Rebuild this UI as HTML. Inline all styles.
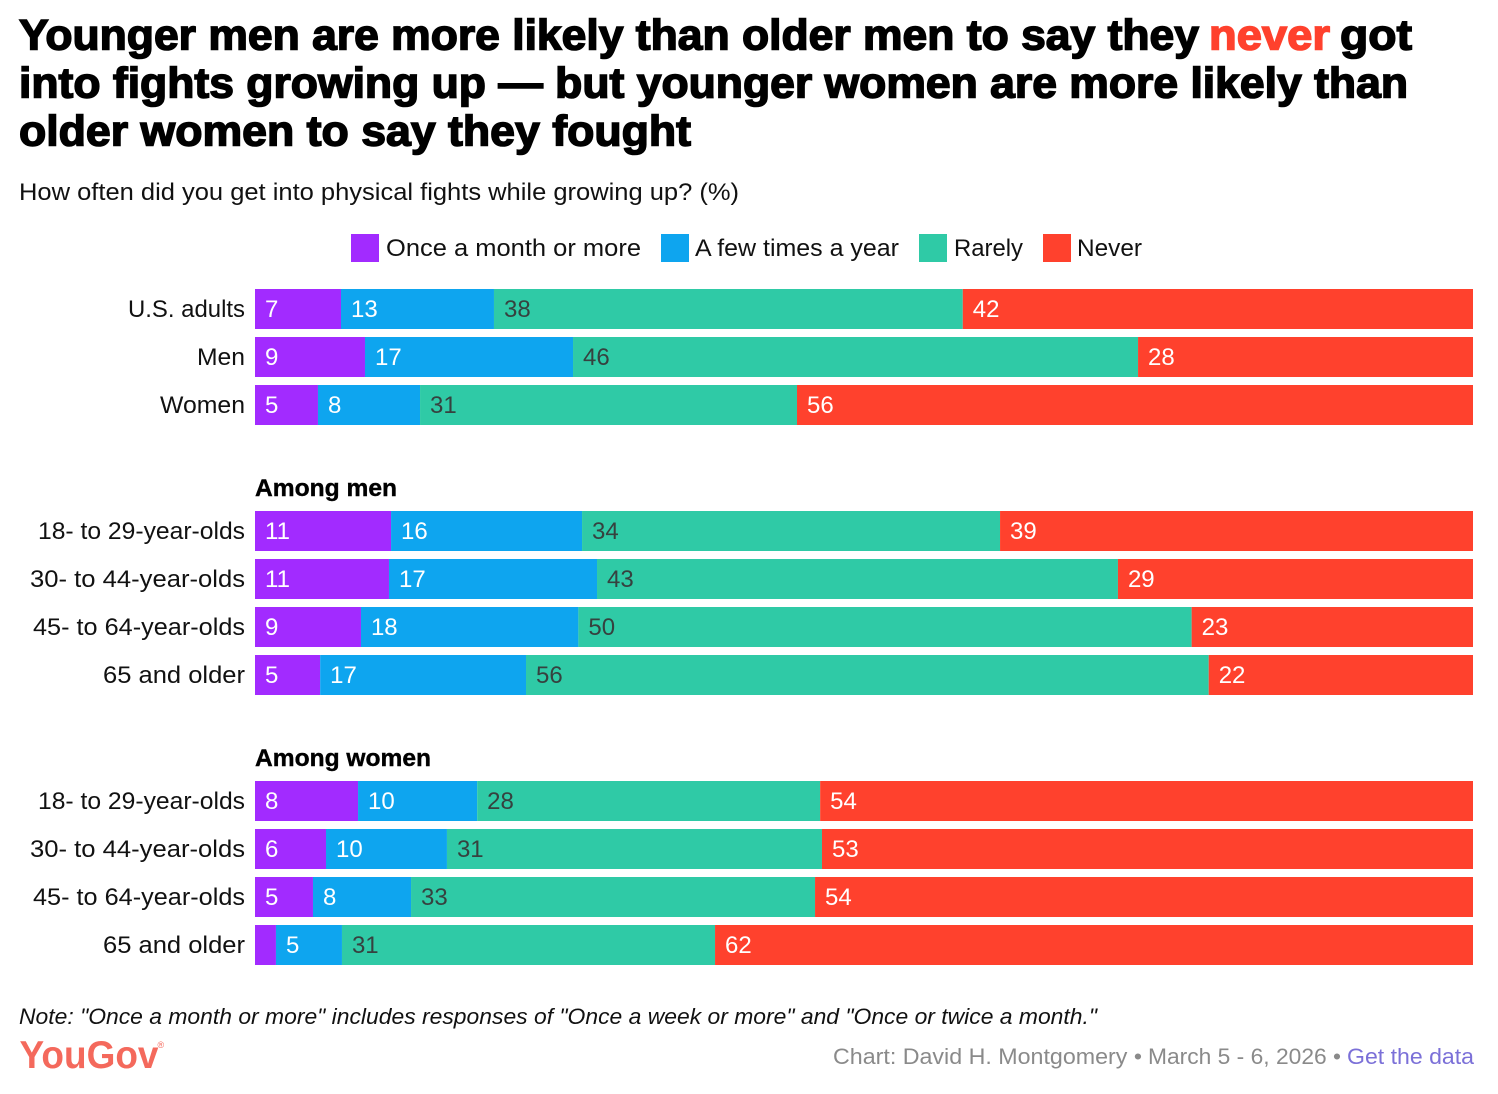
<!DOCTYPE html>
<html lang="en">
<head>
<meta charset="utf-8">
<title>Physical fights growing up</title>
<style>
html,body{margin:0;padding:0;background:#fff;}
svg{display:block;font-family:"Liberation Sans",Arial,sans-serif;}
</style>
</head>
<body>
<svg id="chart" width="1498" height="1094" viewBox="0 0 1498 1094" xmlns="http://www.w3.org/2000/svg">
  <g font-size="43" font-weight="700" fill="#000" stroke="#000" stroke-width="1.5">
    <text x="19" y="49.5" textLength="1180" lengthAdjust="spacingAndGlyphs">Younger men are more likely than older men to say they</text>
    <text x="1209" y="49.5" textLength="121" lengthAdjust="spacingAndGlyphs" fill="#ff412d" stroke="#ff412d">never</text>
    <text x="1340" y="49.5" textLength="72" lengthAdjust="spacingAndGlyphs">got</text>
    <text x="19" y="97.5" textLength="1389" lengthAdjust="spacingAndGlyphs">into fights growing up — but younger women are more likely than</text>
    <text x="19" y="145.5" textLength="672" lengthAdjust="spacingAndGlyphs">older women to say they fought</text>
  </g>
  <text x="19" y="200" font-size="24" fill="#111" textLength="720" lengthAdjust="spacingAndGlyphs">How often did you get into physical fights while growing up? (%)</text>

  <g font-size="24" fill="#111">
    <rect x="351" y="234" width="28" height="28" fill="#a22bff"/>
    <text x="386" y="256" textLength="255" lengthAdjust="spacingAndGlyphs">Once a month or more</text>
    <rect x="661" y="234" width="28" height="28" fill="#0ea5ef"/>
    <text x="695" y="256" textLength="204" lengthAdjust="spacingAndGlyphs">A few times a year</text>
    <rect x="919" y="234" width="28" height="28" fill="#2fcaa6"/>
    <text x="954" y="256" textLength="69" lengthAdjust="spacingAndGlyphs">Rarely</text>
    <rect x="1043" y="234" width="28" height="28" fill="#ff412d"/>
    <text x="1077" y="256" textLength="65" lengthAdjust="spacingAndGlyphs">Never</text>
  </g>

  <g id="rows"></g>

  <text x="255" y="496" font-size="24" font-weight="700" fill="#000" stroke="#000" stroke-width="0.4" textLength="142" lengthAdjust="spacingAndGlyphs">Among men</text>
  <text x="255" y="766" font-size="24" font-weight="700" fill="#000" stroke="#000" stroke-width="0.4" textLength="176" lengthAdjust="spacingAndGlyphs">Among women</text>

  <text x="19" y="1024" font-size="22" font-style="italic" fill="#111" textLength="1078" lengthAdjust="spacingAndGlyphs">Note: "Once a month or more" includes responses of "Once a week or more" and "Once or twice a month."</text>

  <text x="19.5" y="1068" font-size="39" font-weight="700" fill="#f4695c" textLength="139" lengthAdjust="spacingAndGlyphs">YouGov</text>
  <text x="157.5" y="1048" font-size="9" fill="#f4695c">®</text>

  <text x="833" y="1064" font-size="22.5" fill="#8a8a8a" textLength="309" lengthAdjust="spacingAndGlyphs">Chart: David H. Montgomery •</text>
  <text x="1148" y="1064" font-size="22.5" fill="#8a8a8a" textLength="193" lengthAdjust="spacingAndGlyphs">March 5 - 6, 2026 •</text>
  <text x="1347" y="1064" font-size="22.5" fill="#7b70d8" textLength="127" lengthAdjust="spacingAndGlyphs">Get the data</text>
</svg>
<script>
const categories = ["U.S. adults","Men","Women","18- to 29-year-olds","30- to 44-year-olds","45- to 64-year-olds","65 and older","18- to 29-year-olds","30- to 44-year-olds","45- to 64-year-olds","65 and older"];
const categoryGroups = [0,0,0,1,1,1,1,2,2,2,2];
const onceAMonth = [7.06,9.03,5.17,11.17,11.0,8.7,5.35,8.46,5.83,4.76,1.72];
const fewTimesAYear = [12.56,17.08,8.38,15.68,17.08,17.85,16.9,9.78,9.93,8.05,5.42];
const rarely = [38.49,46.39,30.95,34.32,42.77,50.35,56.05,28.16,30.79,33.17,30.63];
const never = [41.89,27.5,55.5,38.83,29.15,23.1,21.7,53.6,53.45,54.02,62.23];
const seriesNames = ["once-a-month","few-times","rarely","never"];
const seriesValues = [onceAMonth,fewTimesAYear,rarely,never];
const seriesColors = ["#a22bff","#0ea5ef","#2fcaa6","#ff412d"];
const labelColors = ["#fff","#fff","#36413f","#fff"];

const SVG_NS = "http://www.w3.org/2000/svg";
const plotLeft = 255, plotWidth = 1218, barHeight = 40;
function xScale(v){ return plotLeft + v / 100 * plotWidth; }
function yScale(i){ return 289 + i * 48 + categoryGroups[i] * 78; }
function labelFit(text){
  if (text === "U.S. adults") return 117;
  if (text === "Men") return 48;
  if (text === "Women") return 85;
  if (text.indexOf("18-") === 0) return 207;
  if (text.indexOf("30-") === 0) return 215;
  if (text.indexOf("45-") === 0) return 212;
  return 142;
}

const rowsLayer = document.getElementById("rows");
categories.forEach(function(cat, i){
  const y = yScale(i);
  const row = document.createElementNS(SVG_NS, "g");
  
  
  const label = document.createElementNS(SVG_NS, "text");
  
  
  label.setAttribute("x", 245);
  label.setAttribute("y", y + 28);
  label.setAttribute("text-anchor", "end");
  label.setAttribute("font-size", "24");
  label.setAttribute("fill", "#111");
  label.setAttribute("textLength", labelFit(cat));
  label.setAttribute("lengthAdjust", "spacingAndGlyphs");
  label.textContent = cat;
  row.appendChild(label);
  let cum = 0;
  seriesValues.forEach(function(vals, s){
    const v = vals[i];
    const x0 = xScale(cum);
    const x1 = xScale(cum + v);
    const rect = document.createElementNS(SVG_NS, "rect");
    
    
    rect.setAttribute("x", x0);
    rect.setAttribute("y", y);
    rect.setAttribute("width", x1 - x0);
    rect.setAttribute("height", barHeight);
    rect.setAttribute("fill", seriesColors[s]);
    rect.setAttribute("class", "series-" + seriesNames[s]);
    row.appendChild(rect);
    if (v >= 3) {
      const t = document.createElementNS(SVG_NS, "text");
      
      
      t.setAttribute("x", x0 + 10);
      t.setAttribute("y", y + 28);
      t.setAttribute("font-size", "24");
      t.setAttribute("fill", labelColors[s]);
      t.textContent = String(Math.round(v));
      row.appendChild(t);
    }
    cum += v;
  });
  rowsLayer.appendChild(row);
});
</script>
</body>
</html>
